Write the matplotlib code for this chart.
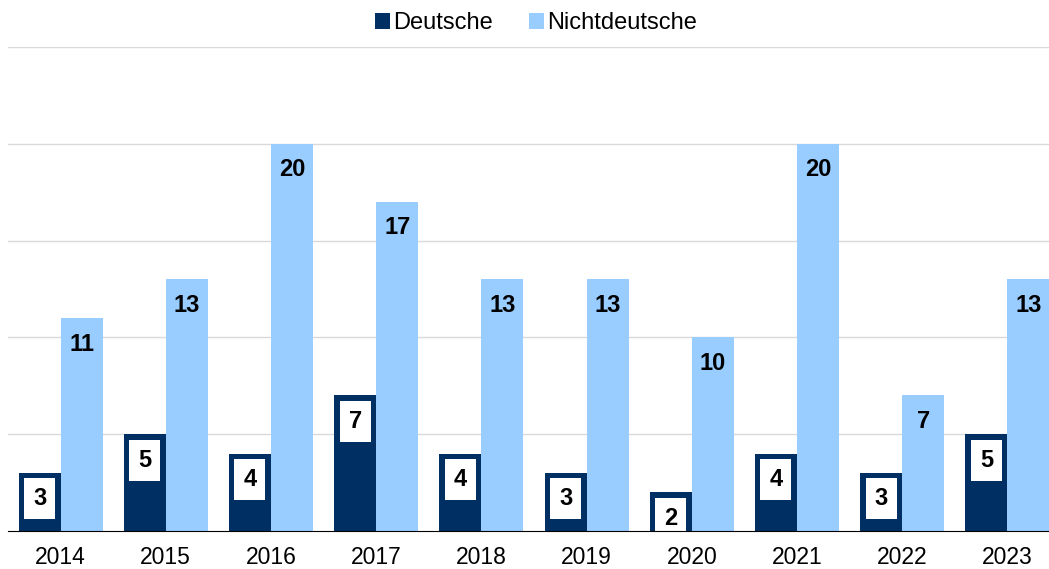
import numpy as np
import matplotlib.pyplot as plt

# Daten
jahre = ["2014", "2015", "2016", "2017", "2018", "2019", "2020", "2021", "2022", "2023"]
deutsche = [3, 5, 4, 7, 4, 3, 2, 4, 3, 5]
nichtdeutsche = [11, 13, 20, 17, 13, 13, 10, 20, 7, 13]

plt.rcParams["font.family"] = ["Liberation Sans", "DejaVu Sans"]

fig = plt.figure(figsize=(10.49, 5.69), dpi=100)
ax = fig.add_axes([8 / 1049, 38 / 569, 1 - 8 / 1049, (531 - 47) / 569])

x = np.arange(len(jahre))
w = 0.4
b1 = ax.bar(x - w / 2, deutsche, w, color="#003063", label="Deutsche", zorder=3)
b2 = ax.bar(x + w / 2, nichtdeutsche, w, color="#99CCFF", label="Nichtdeutsche", zorder=3)

# Beschriftungen in den Balken
off = 26 / 19.35
for xi, v in zip(x - w / 2, deutsche):
    ax.text(xi, v - off, str(v), ha="center", va="center", fontsize=17, fontweight="bold",
            bbox=dict(boxstyle="square,pad=0.38", fc="white", ec="none"), zorder=4)
for xi, v in zip(x + w / 2, nichtdeutsche):
    ax.text(xi, v - off, str(v), ha="center", va="center", fontsize=17, fontweight="bold", zorder=4)

ax.set_ylim(0, 25)
ax.set_xlim(-0.5, -0.5 + 1041 / 105.2)
ax.set_yticks([5, 10, 15, 20, 25])
ax.yaxis.grid(True, color="#d9d9d9", linewidth=1)
ax.set_axisbelow(True)
ax.tick_params(axis="y", left=False, labelleft=False)
ax.tick_params(axis="x", length=0, labelsize=16.5, pad=10.5)
ax.set_xticks(x)
ax.set_xticklabels(jahre)
for s in ["top", "right", "left"]:
    ax.spines[s].set_visible(False)
ax.spines["bottom"].set_color("black")
ax.spines["bottom"].set_zorder(5)

fig.legend(handles=[b1, b2], loc="center", bbox_to_anchor=(536 / 1049, 1 - 23 / 569), ncol=2,
           frameon=False, fontsize=17, handlelength=0.65, handleheight=0.65, handletextpad=0.15,
           columnspacing=1.5)

fig.savefig("out.png", dpi=100)
